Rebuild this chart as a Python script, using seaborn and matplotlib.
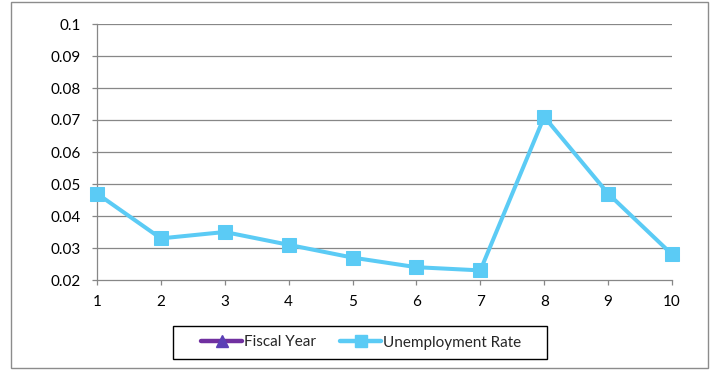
import matplotlib
matplotlib.use("Agg")
import matplotlib.pyplot as plt
from matplotlib.lines import Line2D
from matplotlib.patches import Rectangle
import seaborn as sns
import pandas as pd

x_values = [1, 2, 3, 4, 5, 6, 7, 8, 9, 10]
unemployment_rate = [0.047, 0.033, 0.035, 0.031, 0.027, 0.024, 0.023, 0.071, 0.047, 0.028]
y_ticks = [0.02, 0.03, 0.04, 0.05, 0.06, 0.07, 0.08, 0.09, 0.1]
y_tick_labels = ["0.02", "0.03", "0.04", "0.05", "0.06", "0.07", "0.08", "0.09", "0.1"]
series_names = ["Fiscal Year", "Unemployment Rate"]

df = pd.DataFrame({"x": x_values, "rate": unemployment_rate})

sns.set_theme(style="white")
plt.rcParams["font.family"] = ["Lato", "DejaVu Sans"]

W, H = 716, 372
fig = plt.figure(figsize=(W / 100, H / 100), dpi=100)
fig.patch.set_facecolor("white")

# outer chart border
fig.patches.append(Rectangle((11 / W, 1 - 368 / H), (708 - 11) / W, (368 - 2) / H,
                             transform=fig.transFigure, fill=False,
                             edgecolor="#8c8c8c", linewidth=1.0))
# legend box
fig.patches.append(Rectangle((173 / W, 1 - 359 / H), (547 - 173) / W, (359 - 326) / H,
                             transform=fig.transFigure, fill=False,
                             edgecolor="#000000", linewidth=1.0, zorder=5))

ax = fig.add_axes([97 / W, 1 - 280 / H, (672 - 97) / W, (280 - 24) / H])
ax.set_facecolor("white")

blue = "#5BCBF5"
purple = "#7030A0"

sns.lineplot(data=df, x="x", y="rate", ax=ax, color=blue, linewidth=2.9,
             marker="s", markersize=10, markeredgecolor=blue, legend=False,
             clip_on=False, zorder=3)

ax.set_xlim(1, 10)
ax.set_ylim(0.02, 0.1)
ax.set_yticks(y_ticks)
ax.set_yticklabels(y_tick_labels)
ax.set_xticks(x_values)
ax.set_xticklabels([str(v) for v in x_values])
ax.set_xlabel("")
ax.set_ylabel("")

for y in y_ticks[1:]:
    ax.axhline(y, color="#878787", linewidth=0.9, zorder=1)

for side in ["top", "right"]:
    ax.spines[side].set_visible(False)
ax.spines["left"].set_color("#878787")
ax.spines["bottom"].set_color("#878787")
ax.spines["left"].set_linewidth(0.9)
ax.spines["bottom"].set_linewidth(0.9)

ax.tick_params(axis="both", which="major", length=3.6, width=0.9, color="#878787",
               labelsize=11, labelcolor="#000000", direction="out")
ax.tick_params(axis="y", left=True, pad=8)
ax.tick_params(axis="x", bottom=True, pad=7.5)

handles = [
    Line2D([0], [0], color=purple, linewidth=3.2, marker="^", markersize=8,
           markerfacecolor="#5B3FB5", markeredgecolor="#5B3FB5"),
    Line2D([0], [0], color=blue, linewidth=3.2, marker="s", markersize=8,
           markerfacecolor=blue, markeredgecolor=blue),
]
leg = fig.legend(handles, series_names, loc="center",
                 bbox_to_anchor=(361 / W, 1 - 342.5 / H), ncol=2, frameon=False,
                 fontsize=11, handlelength=2.7, handletextpad=0.1,
                 columnspacing=1.6, borderpad=0.3)

fig.savefig("out.png", dpi=100)
